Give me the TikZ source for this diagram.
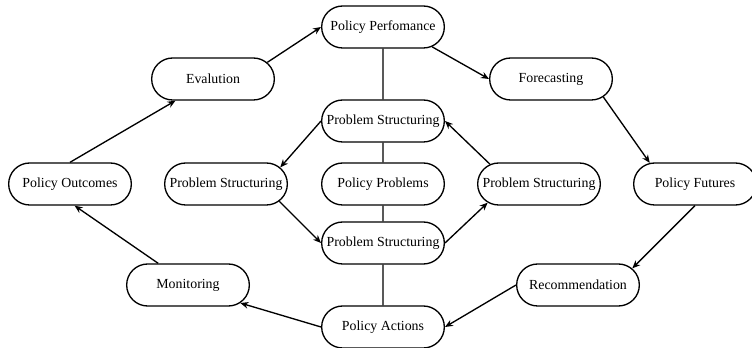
\documentclass[tikz,border=0pt]{standalone}
\usepackage{fontspec}
\setmainfont{Liberation Serif}
\usetikzlibrary{shapes.misc,arrows.meta}

\tikzset{
    stage/.style={rounded rectangle, draw, fill=white, line width=1pt,
        minimum width=96pt, minimum height=31.5pt, inner sep=2pt,
        font=\fontsize{10.4}{12}\selectfont},
    flow/.style={-{Stealth[length=6pt,width=5pt]}, line width=1pt},
    link/.style={line width=1pt}
}

\begin{document}
\begin{tikzpicture}[x=0.75pt, y=-0.75pt]
    \useasboundingbox (0,0) rectangle (752,348);
    % outer cycle
    \node[stage] (perf) at (383,27) {Policy Perfomance};
    \node[stage] (eval) at (213,79) {Evalution};
    \node[stage] (fore) at (551,79) {Forecasting};
    \node[stage] (out) at (70,184) {Policy Outcomes};
    \node[stage] (fut) at (695,184) {Policy Futures};
    \node[stage] (mon) at (188,285) {Monitoring};
    \node[stage] (rec) at (578,285) {Recommendation};
    \node[stage] (act) at (383,327) {Policy Actions};
    % inner cycle
    \node[stage] (pst) at (383,121) {Problem Structuring};
    \node[stage] (psl) at (226,184) {Problem Structuring};
    \node[stage] (prob) at (383,184) {Policy Problems};
    \node[stage] (psr) at (539,184) {Problem Structuring};
    \node[stage] (psb) at (383,243) {Problem Structuring};

    \draw[link] (perf) -- (pst);
    \draw[link] (pst) -- (prob);
    \draw[link] (prob) -- (psb);
    \draw[link] (psb) -- (act);

    \draw[flow] (eval.17) -- (perf.west);
    \draw[flow] (perf.-22) -- (fore.west);
    \draw[flow] (fore.-19) -- (fut.155);
    \draw[flow] (fut.south) -- (rec.17);
    \draw[flow] (rec.west) -- (act.east);
    \draw[flow] (act.west) -- (mon.-19);
    \draw[flow] (mon.144) -- (out.-78);
    \draw[flow] (out.north) -- (eval.210);

    \draw[flow] (pst.west) -- (psl.17);
    \draw[flow] (psl.-18) -- (psb.west);
    \draw[flow] (psb.east) -- (psr.200);
    \draw[flow] (psr.158) -- (pst.east);
\end{tikzpicture}
\end{document}
